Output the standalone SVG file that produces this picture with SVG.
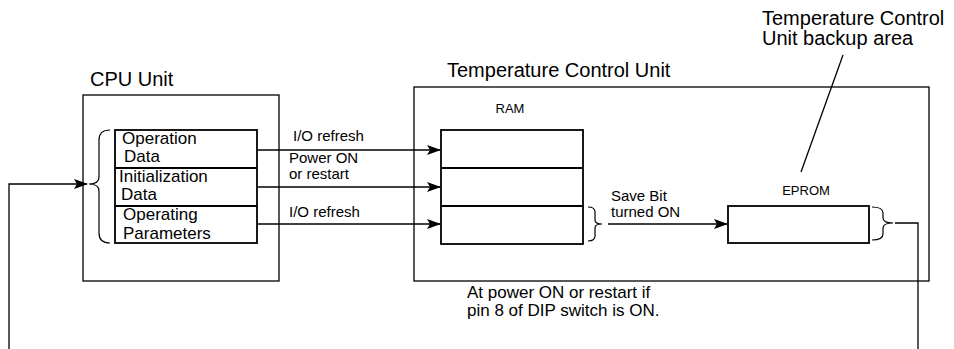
<svg xmlns="http://www.w3.org/2000/svg" width="954" height="349" viewBox="0 0 954 349">
<style>
text{font-family:"Liberation Sans",Arial,Helvetica,sans-serif;fill:#000}
.t{font-size:20px}
.c{font-size:17px}
.l{font-size:15px}
.s{font-size:13px}
.d{font-size:17px}
.box{fill:none;stroke:#000;stroke-width:1.3}
.tbl{fill:none;stroke:#000;stroke-width:1.8}
.ln{fill:none;stroke:#000;stroke-width:1.3}
.br{fill:none;stroke:#000;stroke-width:1.2}
</style>
<defs>
<marker id="ah" markerWidth="14" markerHeight="10" refX="13" refY="5" orient="auto" markerUnits="userSpaceOnUse">
<path d="M0,0 L14,5 L0,10 L3,5 z" fill="#000"/>
</marker>
</defs>
<rect width="954" height="349" fill="#fff"/>

<g id="cpu-unit">
<text class="t" x="90" y="86">CPU Unit</text>
<rect class="box" x="83" y="95" width="196" height="186"/>
</g>

<g id="cpu-table">
<rect class="tbl" x="115" y="130" width="142" height="113"/>
<line class="tbl" x1="115" y1="168" x2="257" y2="168"/>
<line class="tbl" x1="115" y1="206" x2="257" y2="206"/>
<text class="c" x="122" y="144">Operation</text>
<text class="c" x="124" y="162">Data</text>
<text class="c" x="119" y="182">Initialization</text>
<text class="c" x="121" y="200">Data</text>
<text class="c" x="123" y="220">Operating</text>
<text class="c" x="123" y="239">Parameters</text>
<path class="br" d="M110,130 Q99,130 99,140 L99,177 Q99,184 89,184 Q99,184 99,191 L99,233 Q99,243 110,243"/>
</g>

<g id="tcu">
<text class="t" x="447" y="77">Temperature Control Unit</text>
<rect class="box" x="414" y="87" width="515" height="194"/>
</g>

<g id="ram">
<text class="s" x="510" y="113" text-anchor="middle">RAM</text>
<rect class="tbl" x="441" y="130" width="142" height="114"/>
<line class="tbl" x1="441" y1="168" x2="583" y2="168"/>
<line class="tbl" x1="441" y1="206" x2="583" y2="206"/>
<path class="br" d="M588,207 Q595,207 595,212 L595,220 Q595,224 602,224 Q595,224 595,228 L595,236 Q595,241 588,241"/>
</g>

<g id="eprom">
<text class="s" x="806" y="195" text-anchor="middle">EPROM</text>
<rect class="tbl" x="728" y="206" width="141" height="37"/>
<path class="br" d="M872,207 Q883,207 883,213 L883,218 Q883,223 893,223 Q883,223 883,228 L883,234 Q883,240 872,240"/>
</g>

<g id="backup-label">
<text class="t" x="762" y="25">Temperature Control</text>
<text class="t" x="762" y="45">Unit backup area</text>
</g>

<g id="connectors">
<line class="ln" x1="257" y1="150" x2="440" y2="150" marker-end="url(#ah)"/>
<line class="ln" x1="257" y1="187" x2="440" y2="187" marker-end="url(#ah)"/>
<line class="ln" x1="257" y1="224" x2="440" y2="224" marker-end="url(#ah)"/>
<line class="ln" x1="608" y1="224" x2="727" y2="224" marker-end="url(#ah)"/>
<polyline class="ln" points="895,223 918,223 918,349"/>
<polyline class="ln" points="9,349 9,184 87,184" marker-end="url(#ah)"/>
<line class="ln" x1="843" y1="55" x2="801" y2="172"/>
</g>

<g id="labels">
<text class="l" x="293" y="141">I/O refresh</text>
<text class="l" x="289" y="163">Power ON</text>
<text class="l" x="289" y="179">or restart</text>
<text class="l" x="289" y="217">I/O refresh</text>
<text class="l" x="611" y="201">Save Bit</text>
<text class="l" x="611" y="217">turned ON</text>
<text class="d" x="467" y="298">At power ON or restart if</text>
<text class="d" x="467" y="316">pin 8 of DIP switch is ON.</text>
</g>
</svg>
